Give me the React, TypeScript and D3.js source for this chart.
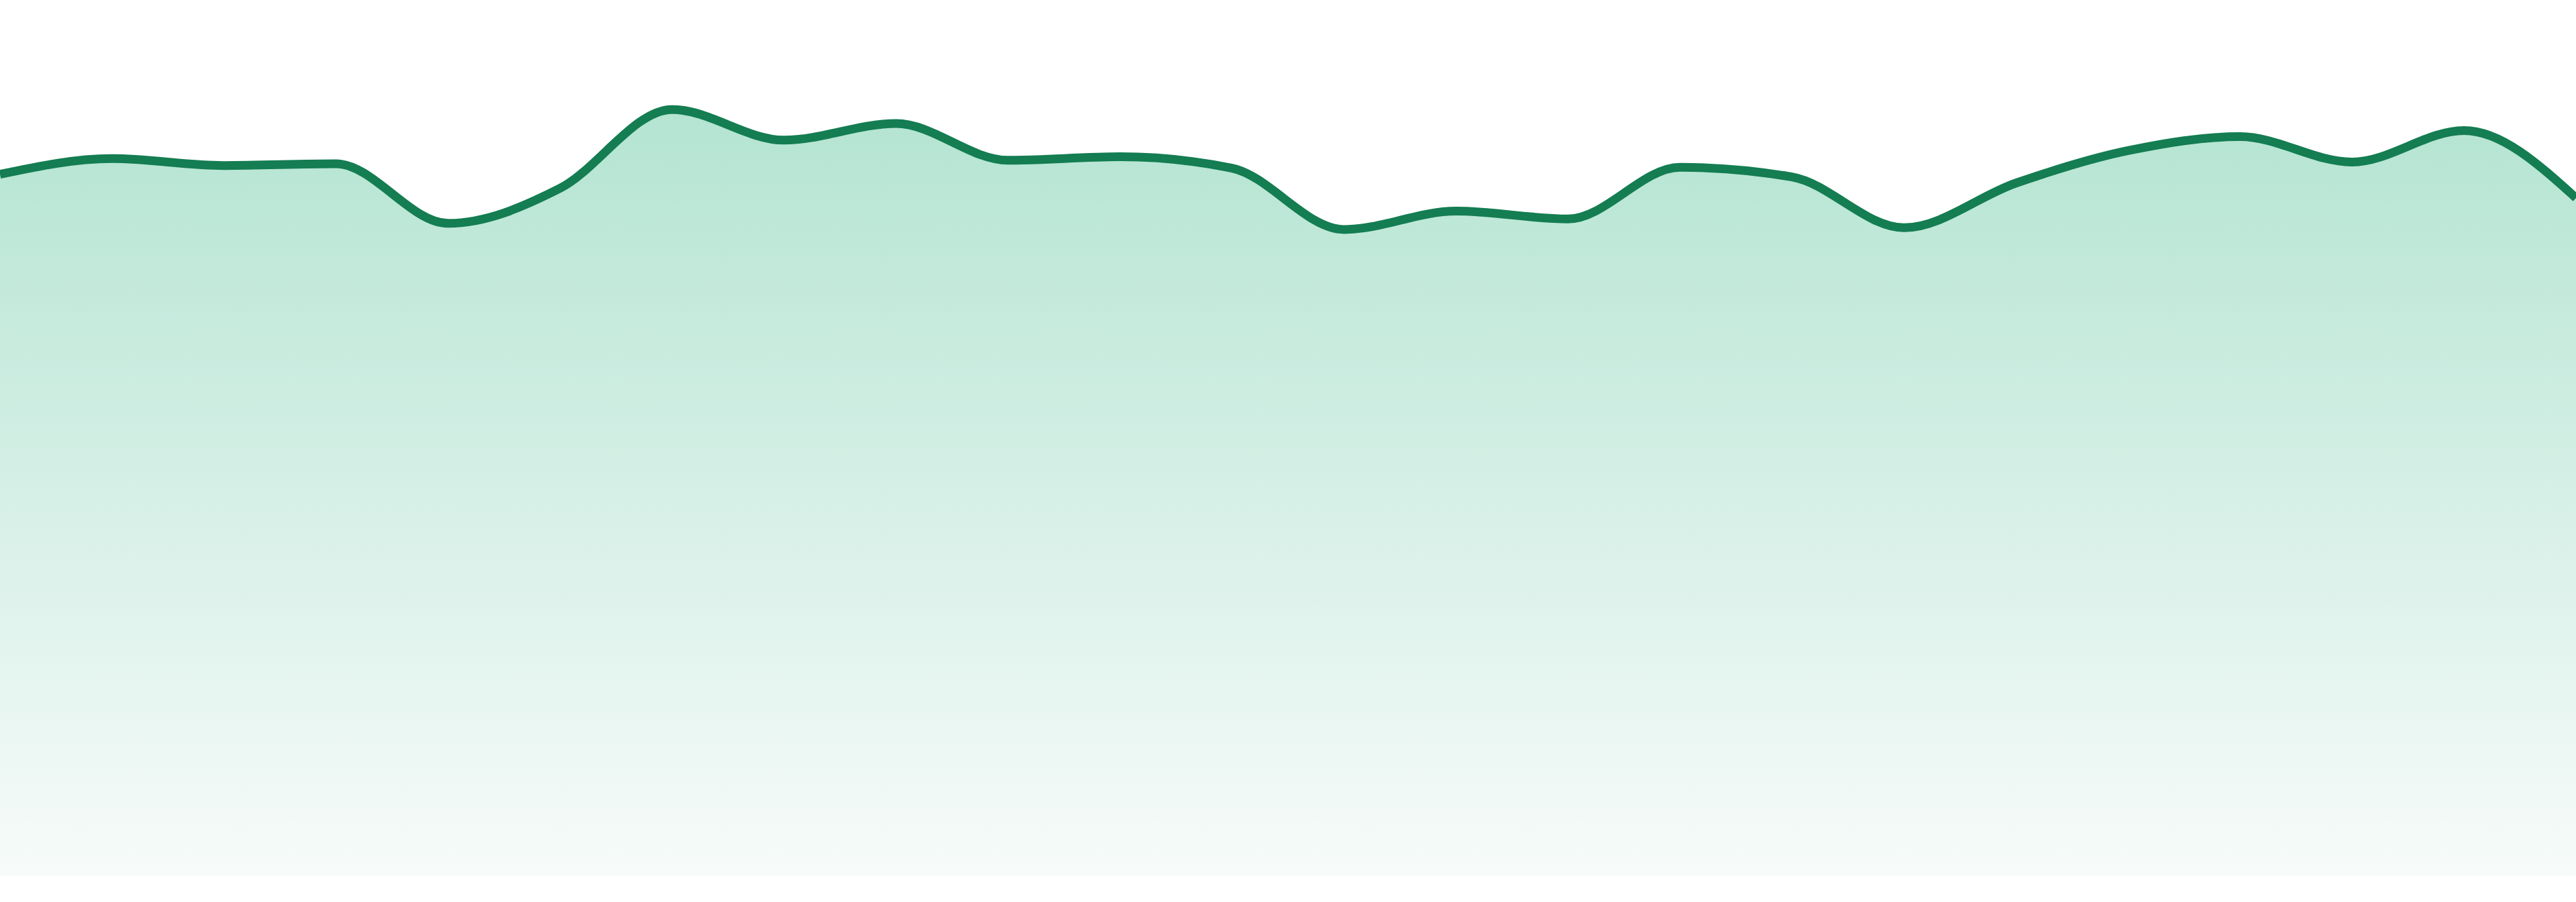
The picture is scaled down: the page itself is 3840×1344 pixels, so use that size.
import React, { useRef, useEffect } from 'react';
import * as d3 from 'd3';

// one value per point, left to right
const values: number[] = [
  80.1, 81.9, 81.1, 81.3, 74.5, 78.5, 87.5, 84.0, 85.9, 81.7, 82.1, 80.8,
  73.8, 75.9, 75.0, 80.9, 79.8, 74.0, 79.1, 82.8, 84.4, 81.5, 85.1, 77.4,
];
const yDomain: [number, number] = [0, 100];

const width = 3840;
const height = 1344;
const baseline = 1305;

const App: React.FC = () => {
  const svgRef = useRef<SVGSVGElement | null>(null);

  useEffect(() => {
    const svg = d3.select(svgRef.current);
    svg.selectAll('*').remove();

    const xScale = d3.scaleLinear().domain([0, values.length - 1]).range([0, width]);
    const yScale = d3.scaleLinear().domain(yDomain).range([baseline, 0]);

    const top = yScale(d3.max(values) as number);

    const grad = svg
      .append('defs')
      .append('linearGradient')
      .attr('id', 'areaFill')
      .attr('gradientUnits', 'userSpaceOnUse')
      .attr('x1', 0)
      .attr('x2', 0)
      .attr('y1', top)
      .attr('y2', baseline);
    grad.append('stop').attr('offset', '0%').attr('stop-color', 'rgb(180,228,210)');
    grad.append('stop').attr('offset', '100%').attr('stop-color', 'rgb(247,251,250)');

    const area = d3
      .area<number>()
      .x((_, i) => xScale(i))
      .y0(baseline)
      .y1(d => yScale(d))
      .curve(d3.curveMonotoneX);

    const line = d3
      .line<number>()
      .x((_, i) => xScale(i))
      .y(d => yScale(d))
      .curve(d3.curveMonotoneX);

    svg.append('path').datum(values).attr('d', area).attr('fill', 'url(#areaFill)');

    svg
      .append('path')
      .datum(values)
      .attr('d', line)
      .attr('fill', 'none')
      .attr('stroke', '#147d52')
      .attr('stroke-width', 13)
      .attr('stroke-linejoin', 'round');
  }, []);

  return (
    <svg
      ref={svgRef}
      width={width}
      height={height}
      style={{ position: 'fixed', left: 0, top: 0, background: '#fff' }}
    />
  );
};

export default App;
